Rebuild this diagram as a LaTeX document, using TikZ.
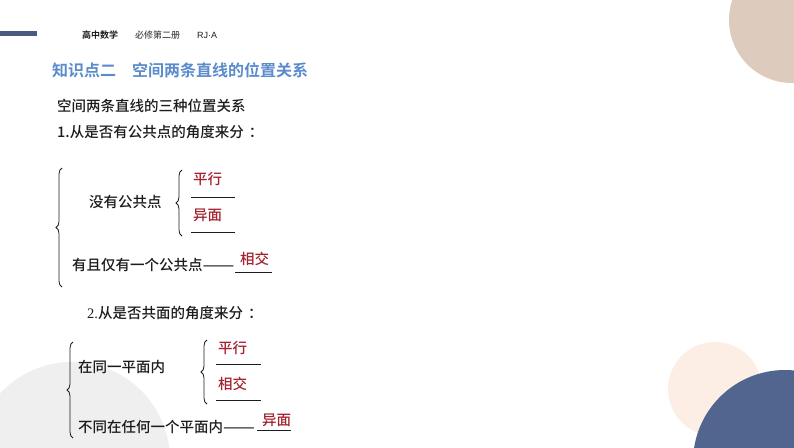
\documentclass[tikz,border=0pt]{standalone}
\usepackage{fontspec}
\setmainfont{Noto Sans CJK SC}[UprightFont=* Medium, BoldFont=* Bold]
\newfontfamily\numserif{Liberation Serif}
\newfontfamily\latinsans{Liberation Sans}
\usetikzlibrary{decorations.pathreplacing}

\definecolor{barblue}{HTML}{4A5A80}
\definecolor{titleblue}{HTML}{5B8BCB}
\definecolor{ansred}{HTML}{A3222E}
\definecolor{sand}{HTML}{DDCCBE}
\definecolor{peach}{HTML}{FCEEE5}
\definecolor{navy}{HTML}{52658F}
\definecolor{softgray}{HTML}{EFEFEF}
\definecolor{ink}{HTML}{1C1C1C}

\newcommand{\longdash}{\scalebox{1.3}[1]{——}}
\newcommand{\wcolon}{\kern5pt：}

\begin{document}
\begin{tikzpicture}[x=1pt,y=-1pt]
    \tikzstyle{every node}+=[inner sep=0pt]
    \tikzstyle{txt}=[anchor=west, text=ink, font=\fontsize{14.5}{17}\selectfont]
    \tikzstyle{ans}=[anchor=west, text=ansred, font=\fontsize{14.5}{17}\selectfont]
    \tikzstyle{hdr}=[anchor=west, text=ink, font=\fontsize{9}{11}\selectfont]
    \tikzstyle{uline}=[ink, line width=0.9pt]
    \tikzstyle{brc}=[decorate, decoration={brace, amplitude=6pt}, ink, line width=0.8pt]
    \useasboundingbox (0,0) rectangle (794,447);
    % background discs
    \fill [softgray] (72,460) circle (98);
    \fill [sand] (792,20) circle (63);
    \fill [peach] (715,389) circle (47);
    \fill [navy] (785,462) circle (92);
    % header
    \fill [barblue] (0,31) rectangle (37,36);
    \node [hdr, font=\fontsize{9}{11}\selectfont\bfseries] (hdsubj) at (82,35) {高中数学};
    \node [hdr, text=ink!80] (hdbook) at (135,35) {必修第二册};
    \node [hdr, font=\fontsize{9}{11}\selectfont\latinsans] (hded) at (197,35) {RJ·A};
    \node [anchor=west, text=titleblue, font=\fontsize{16}{19}\selectfont\bfseries] (title) at (52,70) {知识点二　空间两条直线的位置关系};
    % part 1
    \node [txt] (intro) at (57,106) {空间两条直线的三种位置关系};
    \node [txt] (headA) at (57,132) {1.从是否有公共点的角度来分\wcolon};
    \coordinate (bigAtop) at (62,168);
    \coordinate (bigAbot) at (62,287);
    \draw [brc] (bigAbot) -- (bigAtop);
    \node [txt] (nocommon) at (89,202) {没有公共点};
    \coordinate (smAtop) at (182,170);
    \coordinate (smAbot) at (182,236);
    \draw [brc] (smAbot) -- (smAtop);
    \node [ans] (parA) at (193,179) {平行};
    \coordinate (parAl) at (191,197);
    \coordinate (parAr) at (235,197);
    \draw [uline] (parAl) -- (parAr);
    \node [ans] (skewA) at (193,215) {异面};
    \coordinate (skewAl) at (191,232);
    \coordinate (skewAr) at (235,232);
    \draw [uline] (skewAl) -- (skewAr);
    \node [txt] (onecommon) at (72,265) {有且仅有一个公共点\longdash};
    \node [ans] (crossA) at (240,259) {相交};
    \coordinate (crossAl) at (235,272);
    \coordinate (crossAr) at (272,272);
    \draw [uline] (crossAl) -- (crossAr);
    % part 2
    \node [txt] (headB) at (87,313) {{\numserif 2.}从是否共面的角度来分\wcolon};
    \coordinate (bigBtop) at (73,342);
    \coordinate (bigBbot) at (73,438);
    \draw [brc] (bigBbot) -- (bigBtop);
    \node [txt] (sameplane) at (78,367) {在同一平面内};
    \coordinate (smBtop) at (207,340);
    \coordinate (smBbot) at (207,404);
    \draw [brc] (smBbot) -- (smBtop);
    \node [ans] (parB) at (218,348) {平行};
    \coordinate (parBl) at (216,364);
    \coordinate (parBr) at (261,364);
    \draw [uline] (parBl) -- (parBr);
    \node [ans] (crossB) at (218,384) {相交};
    \coordinate (crossBl) at (216,400);
    \coordinate (crossBr) at (261,400);
    \draw [uline] (crossBl) -- (crossBr);
    \node [txt] (noplane) at (78,427) {不同在任何一个平面内\longdash};
    \node [ans] (skewB) at (262,420) {异面};
    \coordinate (skewBl) at (257,430);
    \coordinate (skewBr) at (291,430);
    \draw [uline] (skewBl) -- (skewBr);
\end{tikzpicture}
\end{document}
